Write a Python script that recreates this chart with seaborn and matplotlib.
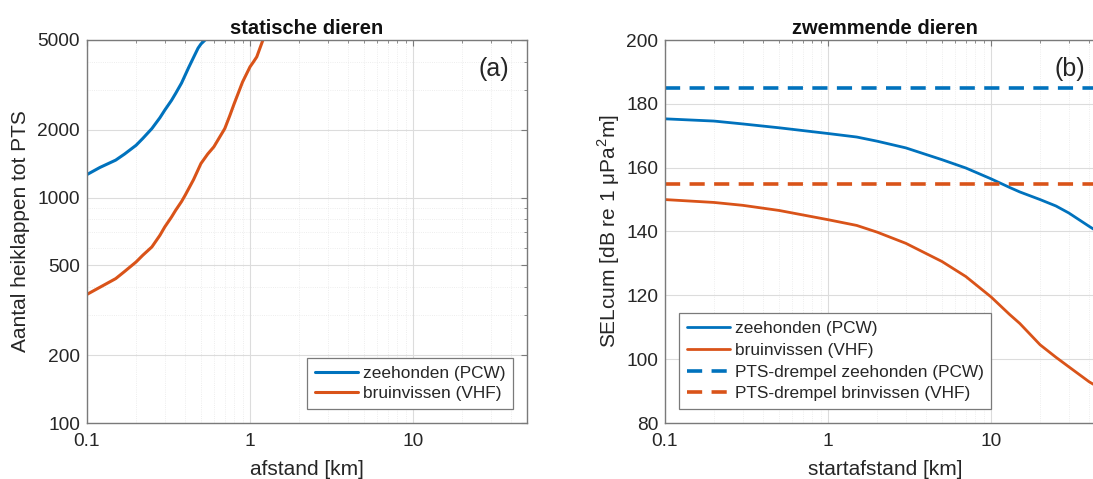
import matplotlib
matplotlib.use("Agg")
import matplotlib.pyplot as plt
import matplotlib.ticker as mticker
import numpy as np
import pandas as pd
import seaborn as sns

# panel (a): number of pile strikes to PTS vs distance
dist_seal = [0.1, 0.12, 0.15, 0.17, 0.2, 0.22, 0.25, 0.28, 0.3, 0.33, 0.35, 0.38,
             0.4, 0.42, 0.45, 0.48, 0.5, 0.53, 0.55]
strikes_seal = [1265, 1360, 1466, 1560, 1706, 1830, 2023, 2260, 2443, 2700, 2900, 3220,
                3491, 3770, 4180, 4600, 4800, 5000, 5300]
dist_porp = [0.1, 0.12, 0.15, 0.17, 0.2, 0.22, 0.25, 0.28, 0.3, 0.33, 0.35, 0.38, 0.4,
             0.45, 0.5, 0.55, 0.6, 0.65, 0.7, 0.75, 0.8, 0.9, 1.0, 1.05, 1.1, 1.2, 1.25]
strikes_porp = [372, 400, 437, 470, 518, 555, 604, 680, 741, 820, 879, 960, 1024,
                1200, 1416, 1560, 1679, 1850, 2023, 2300, 2612, 3257, 3802, 4000, 4210, 5000, 5400]

# panel (b): cumulative SEL vs start distance
start_dist = [0.1, 0.2, 0.3, 0.5, 1, 1.5, 2, 3, 5, 7, 10, 13, 15, 20, 25, 30, 40, 50]
sel_seal = [175.3, 174.6, 173.7, 172.5, 170.7, 169.6, 168.3, 166.2, 162.5, 159.9, 156.5,
            153.8, 152.4, 150.0, 148.0, 145.8, 141.6, 138.5]
sel_porp = [150.0, 149.1, 148.2, 146.6, 143.7, 141.9, 139.8, 136.3, 130.6, 125.9, 119.5,
            114.0, 111.2, 104.5, 100.6, 97.6, 92.9, 90.0]
thr_seal = 185
thr_porp = 155

labels_a = ["zeehonden (PCW)", "bruinvissen (VHF)"]
labels_b = ["zeehonden (PCW)", "bruinvissen (VHF)",
            "PTS-drempel zeehonden (PCW)", "PTS-drempel brinvissen (VHF)"]

BLUE = "#0072BD"
ORANGE = "#D95319"
AX_COL = "#7a7a7a"
TXT_COL = "#262626"

sns.set_style("white")
plt.rcParams["font.family"] = ["Liberation Sans", "DejaVu Sans"]
plt.rcParams["mathtext.fontset"] = "custom"
plt.rcParams["mathtext.rm"] = "Liberation Sans"

fig = plt.figure(figsize=(10.93, 4.79), dpi=100)
ax1 = fig.add_axes([87 / 1093, 56 / 479, 440 / 1093, 383 / 479])
ax2 = fig.add_axes([665 / 1093, 56 / 479, 440 / 1093, 383 / 479])


def style_axes(ax):
    for s in ax.spines.values():
        s.set_color(AX_COL)
        s.set_linewidth(1.0)
    ax.tick_params(which="both", direction="in", top=True, right=True,
                   color=AX_COL, labelcolor=TXT_COL, labelsize=13.8)
    ax.tick_params(which="major", length=4)
    ax.tick_params(which="minor", length=2.5)
    ax.tick_params(axis="x", which="both", pad=7.5)
    ax.tick_params(axis="y", which="both", pad=5)
    ax.grid(True, which="major", color="#dcdcdc", linewidth=0.8)
    ax.grid(True, which="minor", color="#e8e8e8", linewidth=0.6, linestyle=":")
    ax.set_axisbelow(True)


# panel (a)
df_seal = pd.DataFrame({"x": dist_seal, "y": strikes_seal})
df_porp = pd.DataFrame({"x": dist_porp, "y": strikes_porp})
sns.lineplot(data=df_seal, x="x", y="y", ax=ax1, color=BLUE, lw=2.2, label=labels_a[0])
sns.lineplot(data=df_porp, x="x", y="y", ax=ax1, color=ORANGE, lw=2.2, label=labels_a[1])
ax1.set_xscale("log")
ax1.set_yscale("log")
ax1.set_xlim(0.1, 50)
ax1.set_ylim(100, 5000)
ax1.set_yticks([100, 200, 500, 1000, 2000, 5000])
ax1.yaxis.set_major_formatter(mticker.FuncFormatter(lambda v, p: f"{v:g}"))
ax1.yaxis.set_minor_locator(mticker.LogLocator(base=10, subs=np.arange(2, 10)))
ax1.yaxis.set_minor_formatter(mticker.NullFormatter())
ax1.set_xticks([0.1, 1, 10])
ax1.xaxis.set_major_formatter(mticker.FuncFormatter(lambda v, p: f"{v:g}"))
style_axes(ax1)
ax1.set_title("statische dieren", fontsize=14.5, fontweight="bold", color="#111111", pad=4)
ax1.set_xlabel("afstand [km]", fontsize=15, color=TXT_COL, labelpad=7)
ax1.set_ylabel("Aantal heiklappen tot PTS", fontsize=15, color=TXT_COL, labelpad=5)
ax1.text(0.96, 0.955, "(a)", transform=ax1.transAxes, ha="right", va="top",
         fontsize=18, color=TXT_COL)
leg1 = ax1.legend(loc="lower right", fontsize=12.4, frameon=True, fancybox=False,
                  framealpha=1, edgecolor=AX_COL, borderpad=0.45, handlelength=2.5,
                  handletextpad=0.3, labelspacing=0.3, borderaxespad=0.8)
leg1.get_frame().set_linewidth(0.9)

# panel (b)
df_b = pd.DataFrame({"x": start_dist, "seal": sel_seal, "porp": sel_porp})
sns.lineplot(data=df_b, x="x", y="seal", ax=ax2, color=BLUE, lw=2.0, label=labels_b[0])
sns.lineplot(data=df_b, x="x", y="porp", ax=ax2, color=ORANGE, lw=2.0, label=labels_b[1])
ax2.axhline(thr_seal, color=BLUE, lw=2.6, linestyle=(0, (4.2, 2.6)), label=labels_b[2])
ax2.axhline(thr_porp, color=ORANGE, lw=2.6, linestyle=(0, (4.2, 2.6)), label=labels_b[3])
ax2.set_xscale("log")
ax2.set_xlim(0.1, 50)
ax2.set_ylim(80, 200)
ax2.set_yticks(np.arange(80, 201, 20))
ax2.set_xticks([0.1, 1, 10])
ax2.xaxis.set_major_formatter(mticker.FuncFormatter(lambda v, p: f"{v:g}"))
style_axes(ax2)
ax2.grid(False, which="minor", axis="y")
ax2.set_title("zwemmende dieren", fontsize=14.5, fontweight="bold", color="#111111", pad=4)
ax2.set_xlabel("startafstand [km]", fontsize=15, color=TXT_COL, labelpad=7)
ax2.set_ylabel("SELcum [dB re 1 \u03bcPa$^2$m]", fontsize=15, color=TXT_COL, labelpad=3)
ax2.text(0.955, 0.955, "(b)", transform=ax2.transAxes, ha="right", va="top",
         fontsize=18, color=TXT_COL)
leg2 = ax2.legend(loc="lower left", fontsize=12.4, frameon=True, fancybox=False,
                  framealpha=1, edgecolor=AX_COL, borderpad=0.45, handlelength=2.5,
                  handletextpad=0.3, labelspacing=0.4, borderaxespad=0.8)
leg2.get_frame().set_linewidth(0.9)

fig.savefig("out.png", dpi=100)
